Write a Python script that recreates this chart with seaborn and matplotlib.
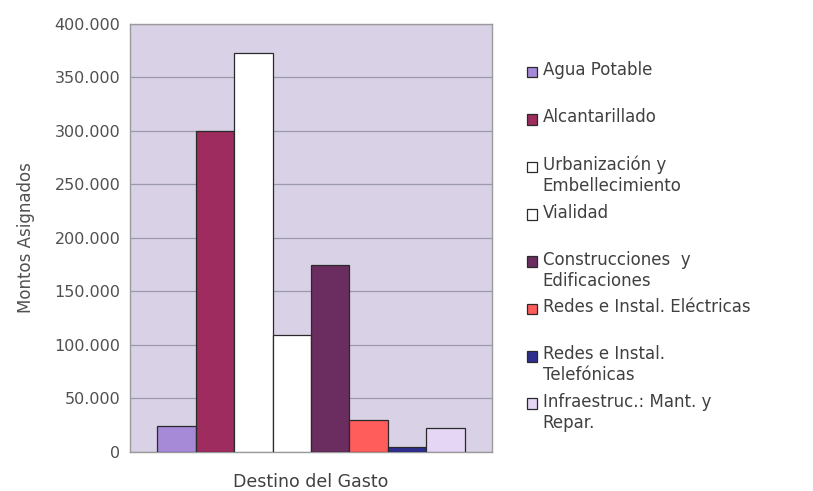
import numpy as np
import pandas as pd
import matplotlib
matplotlib.use("Agg")
import matplotlib.pyplot as plt
import seaborn as sns
from matplotlib.ticker import FuncFormatter, MultipleLocator
from matplotlib.legend_handler import HandlerPatch
from matplotlib.patches import Rectangle

sns.set_theme(style="white")
plt.rcParams['font.family'] = ['DejaVu Sans']

destinos = [
    "Agua Potable",
    "Alcantarillado",
    "Urbanización y\nEmbellecimiento",
    "Vialidad",
    "Construcciones  y\nEdificaciones",
    "Redes e Instal. Eléctricas",
    "Redes e Instal.\nTelefónicas",
    "Infraestruc.: Mant. y\nRepar.",
]
montos = [24500, 300000, 373000, 109000, 175000, 29500, 4800, 22000]
colores = ["#a68ad8", "#9e2c5e", "#ffffff", "#ffffff", "#6b2d60", "#ff5c5c", "#2e2e8e", "#e6d6f6"]

df = pd.DataFrame({"grupo": [""] * len(destinos), "destino": destinos, "monto": montos})

fig = plt.figure(figsize=(8.13, 4.91), dpi=100)
fig.patch.set_facecolor("white")
ax = fig.add_axes([0.16, 0.0794, 0.445, 0.872])
ax.set_facecolor("#d9d2e6")

sns.barplot(data=df, x="grupo", y="monto", hue="destino", hue_order=destinos,
            palette=colores, saturation=1, width=0.85, edgecolor="#2a2a2a",
            linewidth=0.9, dodge=True, ax=ax, legend=True, zorder=3)

ax.set_ylim(0, 400000)
ax.set_xlim(-0.5, 0.5)
ax.yaxis.set_major_locator(MultipleLocator(50000))
ax.yaxis.set_major_formatter(FuncFormatter(lambda v, p: f"{int(v):,}".replace(",", ".")))
ax.grid(axis="y", color="#9a9aa8", linewidth=0.9, zorder=0)
ax.set_axisbelow(True)
ax.tick_params(axis="y", labelsize=11.5, labelcolor="#505050", length=0, pad=7)
ax.set_xticks([])
for s in ax.spines.values():
    s.set_color("#9a9a9a")
    s.set_linewidth(1)

ax.set_ylabel("Montos Asignados", fontsize=12, color="#505050", labelpad=14)
ax.set_xlabel("Destino del Gasto", fontsize=12.5, color="#404040", labelpad=15)


# cuadrito de leyenda alineado con la primera linea del texto
def caja_arriba(legend, orig_handle, xdescent, ydescent, width, height, fontsize):
    return Rectangle((-xdescent, -ydescent + 0.58 * fontsize), width, height)


handles, labels = ax.get_legend_handles_labels()
ax.get_legend().remove()
labels = [l if "\n" in l else l + "\n " for l in labels]
fig.legend(handles, labels, loc="upper left", bbox_to_anchor=(0.640, 0.889),
           frameon=False, fontsize=12, labelcolor="#404040",
           handlelength=0.6, handleheight=0.6, handletextpad=0.35,
           labelspacing=0.51, borderaxespad=0,
           handler_map={h: HandlerPatch(patch_func=caja_arriba) for h in handles})

fig.savefig("out.png", dpi=100, facecolor=fig.get_facecolor())
